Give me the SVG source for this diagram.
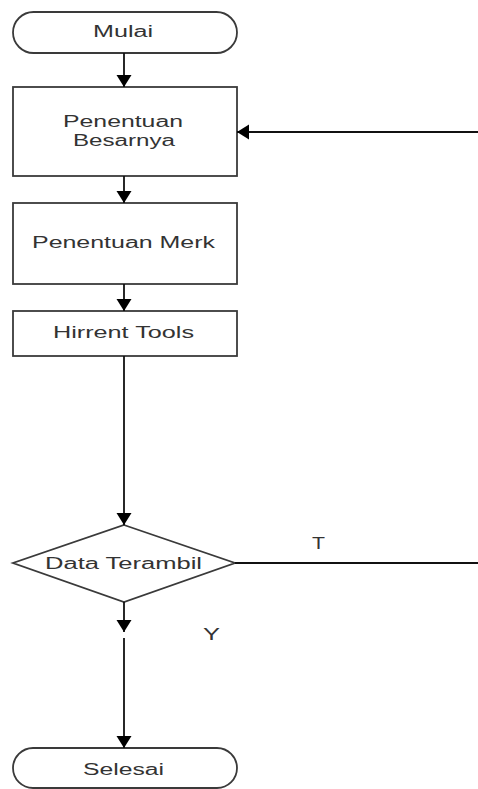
<svg xmlns="http://www.w3.org/2000/svg" width="478" height="789" viewBox="0 0 478 789">
<defs>
<marker id="ah" markerUnits="userSpaceOnUse" markerWidth="14" markerHeight="16" refX="12" refY="7.5" orient="auto">
<path d="M0,0 L12,7.5 L0,15 Z" fill="#000"/>
</marker>
</defs>
<style>
.shape{fill:#fff;stroke:#3a3a3a;stroke-width:1.8}
.lbl{font-family:"Liberation Sans",Arial,sans-serif;font-size:16px;fill:#333}
.conn{stroke:#111;stroke-width:1.8;fill:none}
</style>
<rect width="478" height="789" fill="#fff"/>
<g id="mulai">
<rect class="shape" x="13" y="12" width="224" height="41" rx="20.5"/>
<text class="lbl" x="93" y="37" textLength="60" lengthAdjust="spacingAndGlyphs">Mulai</text>
</g>
<g id="penentuan-besarnya">
<rect class="shape" x="13" y="87" width="224" height="89"/>
<text class="lbl" x="63" y="127" textLength="120" lengthAdjust="spacingAndGlyphs">Penentuan</text>
<text class="lbl" x="73" y="146" textLength="102" lengthAdjust="spacingAndGlyphs">Besarnya</text>
</g>
<g id="penentuan-merk">
<rect class="shape" x="13" y="203" width="224" height="81"/>
<text class="lbl" x="32" y="248" textLength="183" lengthAdjust="spacingAndGlyphs">Penentuan Merk</text>
</g>
<g id="hirrent-tools">
<rect class="shape" x="13" y="311" width="224" height="45"/>
<text class="lbl" x="53" y="338" textLength="141" lengthAdjust="spacingAndGlyphs">Hirrent Tools</text>
</g>
<g id="data-terambil">
<polygon class="shape" points="124,525 235,563 124,602 13,563"/>
<text class="lbl" x="45" y="569" textLength="157" lengthAdjust="spacingAndGlyphs">Data Terambil</text>
</g>
<g id="selesai">
<rect class="shape" x="13" y="748" width="224" height="40" rx="20"/>
<text class="lbl" x="83" y="775" textLength="81" lengthAdjust="spacingAndGlyphs">Selesai</text>
</g>
<g id="connectors">
<line class="conn" x1="124" y1="53" x2="124" y2="87" marker-end="url(#ah)"/>
<line class="conn" x1="124" y1="176" x2="124" y2="203" marker-end="url(#ah)"/>
<line class="conn" x1="124" y1="284" x2="124" y2="311" marker-end="url(#ah)"/>
<line class="conn" x1="124" y1="356" x2="124" y2="525" marker-end="url(#ah)"/>
<line class="conn" x1="124" y1="602" x2="124" y2="632" marker-end="url(#ah)"/>
<line class="conn" x1="124" y1="638" x2="124" y2="748" marker-end="url(#ah)"/>
<line class="conn" x1="235" y1="563" x2="478" y2="563"/>
<line class="conn" x1="478" y1="132" x2="237" y2="132" marker-end="url(#ah)"/>
<text class="lbl" x="312" y="549" textLength="13" lengthAdjust="spacingAndGlyphs">T</text>
<text class="lbl" x="203" y="640" textLength="17" lengthAdjust="spacingAndGlyphs">Y</text>
</g>
</svg>
